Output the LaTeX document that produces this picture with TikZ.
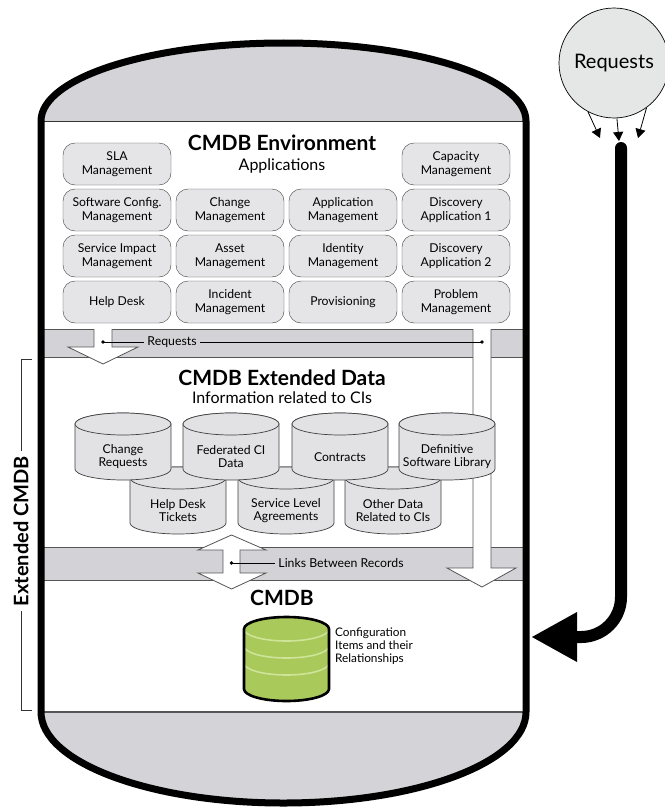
\documentclass[tikz,border=0pt]{standalone}
\usepackage{fontspec}
\setmainfont{Lato}
\usetikzlibrary{arrows.meta}

\definecolor{capgray}{RGB}{212,212,216}
\definecolor{bandgray}{RGB}{211,211,215}
\definecolor{boxgray}{RGB}{229,229,231}
\definecolor{cylgray}{RGB}{226,226,229}
\definecolor{reqgray}{RGB}{229,231,231}
\definecolor{cmdbgreen}{RGB}{169,201,90}
\definecolor{cmdblight}{RGB}{206,228,152}
\definecolor{edgegray}{RGB}{85,85,85}

\begin{document}
\begin{tikzpicture}[x=1pt,y=-1pt,
    appbox/.style={draw=black!75,fill=boxgray,rounded corners=12pt,
      minimum width=108pt,minimum height=42pt,inner sep=1pt,align=center,
      font=\fontsize{12.2}{13.5}\selectfont},
    datacyl/.style={draw=black!75,fill=cylgray,line width=0.7pt},
    cyltext/.style={align=center,font=\fontsize{12.2}{13}\selectfont},
    bigtitle/.style={font=\bfseries\fontsize{21}{23}\selectfont},
    subtitle/.style={font=\fontsize{16}{18}\selectfont},
    bandtext/.style={font=\fontsize{12.3}{14}\selectfont,inner sep=3pt},
    labelline/.style={draw=black,line width=0.6pt},
    blockarrow/.style={draw=edgegray,line width=0.8pt},
    reqarrow/.style={line width=0.8pt,-{Triangle[length=9pt,width=10pt]}}]

\useasboundingbox (0,0) rectangle (664,808);

% tank body and caps
\fill[white] (41,121) arc[start angle=180,end angle=360,x radius=242.5,y radius=78]
  -- (526,712) arc[start angle=0,end angle=180,x radius=242.5,y radius=91] -- cycle;
\fill[capgray] (41,121) arc[start angle=180,end angle=360,x radius=242.5,y radius=78] -- cycle;
\fill[capgray] (526,712) arc[start angle=0,end angle=180,x radius=242.5,y radius=91] -- cycle;
\draw[black!80,line width=0.8pt] (41,121) -- (526,121);
\draw[edgegray,line width=1.2pt] (41,712) -- (526,712);

% applications
\node[bigtitle] (envtitle) at (282,143) {CMDB Environment};
\node[subtitle] (envsub) at (282,166) {Applications};
\foreach \col/\row/\lbl in {1/1/{SLA\\Management}, 4/1/{Capacity\\Management},
    1/2/{Software Config.\\Management}, 2/2/{Change\\Management},
    3/2/{Application\\Management}, 4/2/{Discovery\\Application 1},
    1/3/{Service Impact\\Management}, 2/3/{Asset\\Management},
    3/3/{Identity\\Management}, 4/3/{Discovery\\Application 2},
    1/4/{Help Desk}, 2/4/{Incident\\Management},
    3/4/{Provisioning}, 4/4/{Problem\\Management}}
  \node[appbox] (app\col\row) at ({117+113*(\col-1)},{164+46*(\row-1)}) {\lbl};

% bands
\fill[bandgray] (41,329) rectangle (526,357);
\draw[blockarrow] (41,329) -- (526,329) (41,357) -- (526,357);
\fill[bandgray] (41,547) rectangle (526,580);
\draw[blockarrow] (41,547) -- (526,547) (41,580) -- (526,580);

% block arrows
\fill[white] (94,328) -- (94,347) -- (68,347) -- (103,364) -- (138,347) -- (112,347) -- (112,328) -- cycle;
\draw[blockarrow] (94,329) -- (94,347) -- (68,347) -- (103,364) -- (138,347) -- (112,347) -- (112,329);
\fill[white] (473,328) -- (473,568) -- (447,568) -- (482,587) -- (516,568) -- (491,568) -- (491,328) -- cycle;
\draw[blockarrow] (473,329) -- (473,568) -- (447,568) -- (482,587) -- (516,568) -- (491,568) -- (491,329);
\filldraw[blockarrow,fill=white] (223,550) -- (198,550) -- (231.5,535) -- (266,550) -- (240,550)
  -- (240,573) -- (266,573) -- (231.5,589) -- (198,573) -- (223,573) -- cycle;

% band labels
\coordinate (reqdotL) at (103,342);
\coordinate (reqdotR) at (482,342);
\draw[labelline] (reqdotL) -- (reqdotR);
\fill (reqdotL) circle (1.8) (reqdotR) circle (1.8);
\node[bandtext,fill=bandgray] (reqlabel) at (172,342) {Requests};
\coordinate (linkdot) at (231.5,563);
\node[bandtext] (linklabel) at (341,563) {Links Between Records};
\draw[labelline] (linkdot) -- (linklabel.west);
\fill (linkdot) circle (1.8);

% extended data
\node[bigtitle] (exttitle) at (282,378) {CMDB Extended Data};
\node[subtitle] (extsub) at (282,398) {Information related to CIs};
\foreach \cx/\cy/\lbl [count=\i] in {178/478/{Help Desk\\Tickets},
    286/478/{Service Level\\Agreements}, 393/478/{Other Data\\Related to CIs},
    123/424/{Change\\Requests}, 231/424/{Federated CI\\Data},
    340/424/{Contracts}, 447/424/{Definitive\\Software Library}} {
  \draw[datacyl] (\cx-48,\cy) -- (\cx-48,\cy+45)
    arc[start angle=180,end angle=0,x radius=48,y radius=11] -- (\cx+48,\cy)
    arc[start angle=0,end angle=-180,x radius=48,y radius=11] -- cycle;
  \draw[datacyl] (\cx,\cy) ellipse[x radius=48,y radius=11];
  \node[cyltext] (cyl\i) at (\cx,\cy+33) {\lbl};
}

% cmdb
\node[bigtitle] (cmdbtitle) at (282,598) {CMDB};
\fill[cmdbgreen] (244,629) -- (244,689) arc[start angle=180,end angle=0,x radius=42.5,y radius=12]
  -- (329,629) arc[start angle=0,end angle=-180,x radius=42.5,y radius=12] -- cycle;
\foreach \yy in {629,646,663}
  \draw[cmdblight,line width=1.6pt] (244,\yy) arc[start angle=180,end angle=0,x radius=42.5,y radius=12];
\draw[line width=2.6pt] (244,689) -- (244,629) arc[start angle=180,end angle=360,x radius=42.5,y radius=12]
  -- (329,689) arc[start angle=0,end angle=180,x radius=42.5,y radius=12] -- cycle;
\node[anchor=west,align=left,inner sep=0pt,font=\fontsize{11.8}{13.3}\selectfont] (citext) at (335,646)
  {Configuration\\Items and their\\Relationships};

% tank outline
\draw[line width=7pt] (41,121) arc[start angle=180,end angle=360,x radius=242.5,y radius=78]
  -- (526,712) arc[start angle=0,end angle=180,x radius=242.5,y radius=91] -- cycle;

% extended cmdb bracket
\node[rotate=90,font=\bfseries\fontsize{20}{22}\selectfont,inner sep=5pt] (extlabel) at (21,531) {Extended CMDB};
\draw[black!80,line width=0.7pt] (extlabel.east) -- (21,359) -- ++(11,0);
\draw[black!80,line width=0.7pt] (extlabel.west) -- (21,710) -- ++(11,0);

% requests feed
\node[circle,draw=black,fill=reqgray,line width=0.7pt,minimum size=110pt,inner sep=0pt,
  font=\fontsize{20}{22}\selectfont] (req) at (614,63) {Requests};
\coordinate (tipL) at (600,138);
\coordinate (tipM) at (619,141);
\coordinate (tipR) at (638,138);
\draw[reqarrow] (req.242) -- (tipL);
\draw[reqarrow] (req.273) -- (tipM);
\draw[reqarrow] (req.306) -- (tipR);
\coordinate (bartop) at (621,148);
\coordinate (wallhit) at (532,637);
\draw[line width=12pt,line cap=round,rounded corners=40pt,
  -{Triangle[length=45pt,width=50pt,line width=0pt]}] (bartop) -- (621,637) -- (wallhit);
\end{tikzpicture}
\end{document}
